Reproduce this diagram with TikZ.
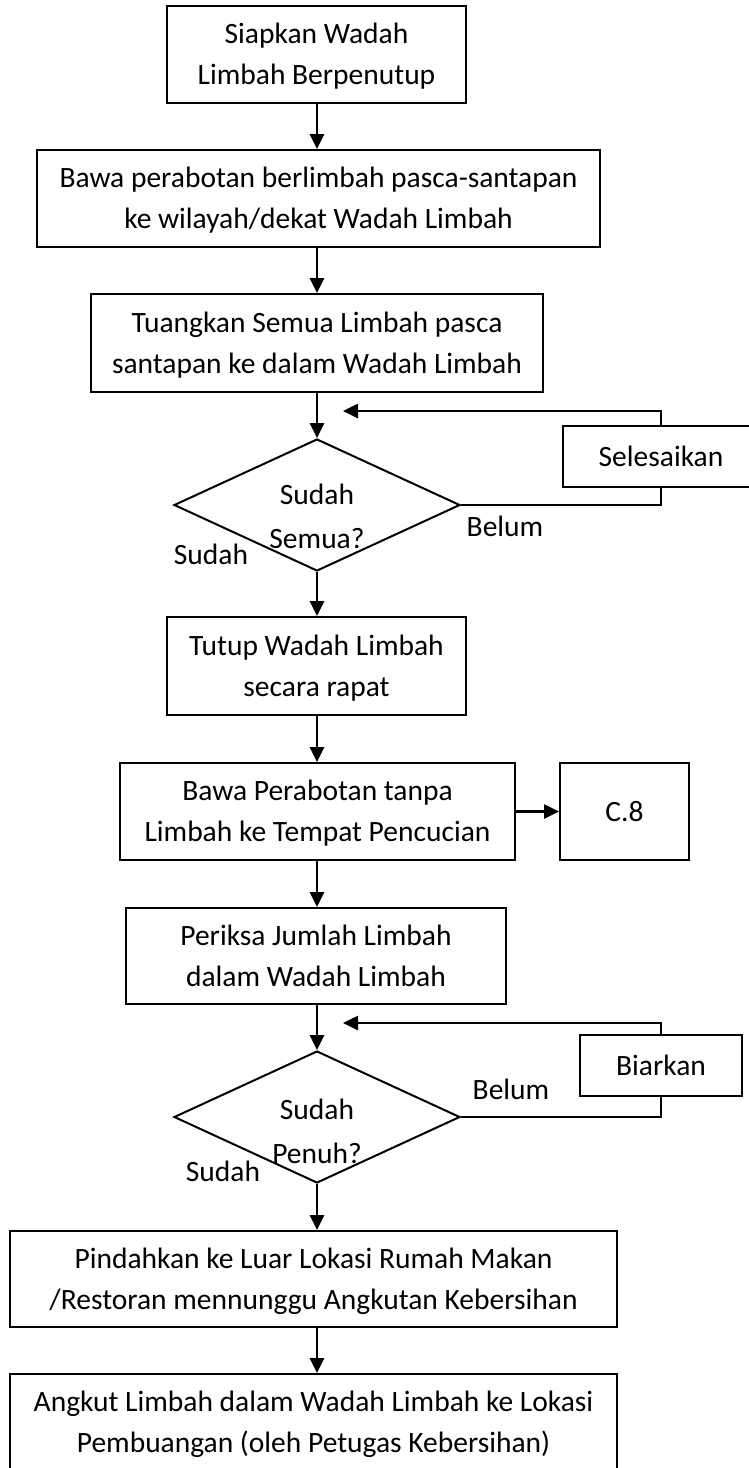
\documentclass[tikz,border=0pt]{standalone}
\usepackage{fontspec}
\setmainfont{Carlito}
\usetikzlibrary{shapes.geometric,arrows.meta}
% box text: one centred column, set slightly low in its box
\newcommand\boxtext[1]{\raisebox{-1.5pt}[\height][\depth]{\begin{tabular}{@{}c@{}}#1\end{tabular}}}
\begin{document}
\begin{tikzpicture}[x=1pt,y=-1pt,
  every node/.style={font=\fontsize{29.5}{41}\selectfont},
  box/.style={draw,line width=2pt,inner sep=0pt,minimum width=#1,minimum height=97pt},
  dec/.style={draw,shape=diamond,line width=2pt,minimum width=286pt,minimum height=132pt,inner sep=0pt},
  txt/.style={inner sep=0pt,align=center},
  dtxt/.style={inner sep=0pt,align=center,font=\fontsize{29.5}{44}\selectfont},
  arr/.style={line width=2.6pt,-{Triangle[length=15pt,width=14pt]}},
  ln/.style={line width=2.6pt}]
\useasboundingbox (0,0) rectangle (749,1468);

% main column
\node[box=299pt] (b1) at (316.5,54.5) {\boxtext{Siapkan Wadah\\Limbah Berpenutup}};
\node[box=563pt] (b2) at (318.5,198.5) {\boxtext{Bawa perabotan berlimbah pasca-santapan\\ke wilayah/dekat Wadah Limbah}};
\node[box=452pt, minimum height=98pt] (b3) at (317,343) {\boxtext{Tuangkan Semua Limbah pasca\\santapan ke dalam Wadah Limbah}};
\node[dec] (d1) at (317,505) {};
\node[dtxt] (d1t) at (317,516) {Sudah\\Semua?};
\node[box=299pt, minimum height=98pt] (b4) at (316.5,666) {\boxtext{Tutup Wadah Limbah\\secara rapat}};
\node[box=395pt] (b5) at (317.5,811.5) {\boxtext{Bawa Perabotan tanpa\\Limbah ke Tempat Pencucian}};
\node[box=129pt] (c8) at (624.5,811.5) {\boxtext{C.8}};
\node[box=380pt, minimum height=96pt] (b6) at (316,956) {\boxtext{Periksa Jumlah Limbah\\dalam Wadah Limbah}};
\node[dec] (d2) at (317,1117) {};
\node[dtxt] (d2t) at (317,1131) {Sudah\\Penuh?};
\node[box=607pt, minimum height=96pt] (b7) at (313.5,1279) {\boxtext{Pindahkan ke Luar Lokasi Rumah Makan\\/Restoran mennunggu Angkutan Kebersihan}};
\node[box=607pt, minimum height=96pt] (b8) at (313.5,1422) {\boxtext{Angkut Limbah dalam Wadah Limbah ke Lokasi\\Pembuangan (oleh Petugas Kebersihan)}};

% loop boxes
\node[box=196pt, minimum height=61pt] (sel) at (661,456.5) {\boxtext{Selesaikan}};
\node[box=162pt, minimum height=61pt] (bia) at (661,1065.5) {\boxtext{Biarkan}};

% branch labels
\node[txt] (l1) at (505,526) {Belum};
\node[txt] (l2) at (211,554) {Sudah};
\node[txt] (l3) at (511,1089) {Belum};
\node[txt] (l4) at (223,1171) {Sudah};

% loop-back ends
\coordinate (r1) at (343,411);
\coordinate (r2) at (343,1023);

% connectors
\draw[arr] (b1.south -| 317,0) -- (b2.north -| 317,0);
\draw[arr] (b2.south -| 317,0) -- (b3.north -| 317,0);
\draw[arr] (b3.south -| 317,0) -- (d1.north);
\draw[arr] (d1.south) -- (b4.north -| 317,0);
\draw[arr] (b4.south -| 317,0) -- (b5.north -| 317,0);
\draw[arr] (b5.east) -- (c8.west);
\draw[arr] (b5.south -| 317,0) -- (b6.north -| 317,0);
\draw[arr] (b6.south -| 317,0) -- (d2.north);
\draw[arr] (d2.south) -- (b7.north -| 317,0);
\draw[arr] (b7.south -| 317,0) -- (b8.north -| 317,0);

\draw[ln] (d1.east) -| (sel.south);
\draw[arr] (sel.north) |- (r1);
\draw[ln] (d2.east) -| (bia.south);
\draw[arr] (bia.north) |- (r2);
\end{tikzpicture}
\end{document}
